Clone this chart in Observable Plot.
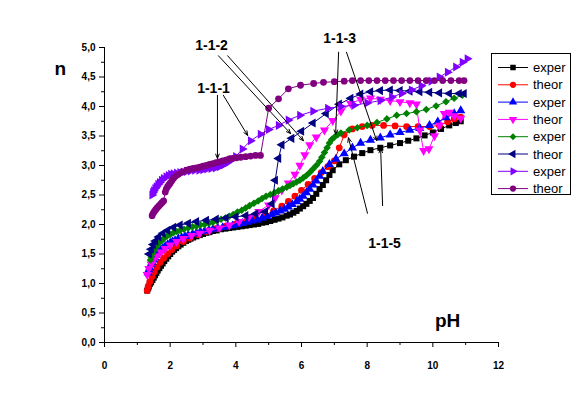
<!DOCTYPE html>
<html><head><meta charset="utf-8">
<script src="https://cdn.jsdelivr.net/npm/d3@7"></script>
<script src="https://cdn.jsdelivr.net/npm/@observablehq/plot@0.6"></script>
<style>
body{margin:0;background:#fff;}
#wrap{position:relative;width:579px;height:410px;background:#fff;}
#legend{position:absolute;left:491px;top:53px;}
</style></head><body><div id="wrap"></div>
<script>
// ---- data: [pH, n] ----
const exper1 = [[1.30,0.88],[1.33,0.92],[1.35,0.95],[1.38,0.99],[1.42,1.02],[1.46,1.06],[1.50,1.10],[1.54,1.14],[1.58,1.18],[1.62,1.22],[1.67,1.26],[1.72,1.30],[1.77,1.34],[1.82,1.38],[1.88,1.42],[1.94,1.46],[2.00,1.50],[2.06,1.54],[2.12,1.57],[2.18,1.60],[2.25,1.63],[2.32,1.66],[2.40,1.69],[2.48,1.72],[2.55,1.74],[2.62,1.76],[2.70,1.78],[2.80,1.80],[2.90,1.82],[3.00,1.84],[3.10,1.86],[3.20,1.87],[3.30,1.89],[3.42,1.90],[3.55,1.92],[3.68,1.93],[3.80,1.94],[3.92,1.95],[4.05,1.96],[4.18,1.97],[4.30,1.98],[4.42,1.99],[4.55,2.00],[4.68,2.01],[4.80,2.03],[4.92,2.04],[5.05,2.06],[5.18,2.08],[5.30,2.10],[5.42,2.12],[5.55,2.15],[5.65,2.17],[5.75,2.20],[5.85,2.23],[5.95,2.27],[6.05,2.31],[6.15,2.35],[6.25,2.40],[6.35,2.45],[6.45,2.52],[6.55,2.60],[6.65,2.67],[6.75,2.75],[6.85,2.84],[6.95,2.92],[7.15,3.02],[7.35,3.09],[7.60,3.15],[7.85,3.21],[8.10,3.26],[8.40,3.30],[8.70,3.34],[9.00,3.38],[9.25,3.42],[9.50,3.46],[9.75,3.51],[10.00,3.56],[10.25,3.62],[10.50,3.68],[10.70,3.72],[10.85,3.75]];
const theor1 = [[1.30,0.88],[1.33,0.95],[1.38,1.03],[1.45,1.12],[1.52,1.20],[1.60,1.28],[1.70,1.36],[1.80,1.43],[1.92,1.50],[2.05,1.57],[2.20,1.64],[2.40,1.71],[2.60,1.77],[2.85,1.83],[3.10,1.88],[3.40,1.93],[3.70,1.97],[4.00,2.01],[4.30,2.05],[4.60,2.10],[4.90,2.16],[5.15,2.23],[5.40,2.31],[5.60,2.39],[5.80,2.48],[6.00,2.58],[6.20,2.68],[6.40,2.78],[6.60,2.88],[6.80,2.98],[7.00,3.08],[7.15,3.30],[7.30,3.52],[7.55,3.62],[7.85,3.66],[8.15,3.68],[8.50,3.68],[8.85,3.67],[9.20,3.66],[9.55,3.66],[9.90,3.66],[10.20,3.68],[10.45,3.74],[10.65,3.79],[10.85,3.82]];
const exper2 = [[1.33,1.18],[1.35,1.23],[1.38,1.27],[1.41,1.32],[1.45,1.36],[1.49,1.40],[1.53,1.44],[1.57,1.48],[1.62,1.51],[1.67,1.54],[1.72,1.57],[1.78,1.60],[1.85,1.63],[1.92,1.66],[2.00,1.69],[2.07,1.71],[2.15,1.73],[2.25,1.76],[2.35,1.78],[2.45,1.80],[2.55,1.82],[2.68,1.84],[2.80,1.86],[2.92,1.88],[3.05,1.89],[3.18,1.91],[3.30,1.92],[3.45,1.94],[3.60,1.95],[3.75,1.97],[3.90,1.98],[4.05,2.00],[4.20,2.02],[4.35,2.04],[4.50,2.06],[4.65,2.08],[4.80,2.11],[4.95,2.14],[5.10,2.17],[5.22,2.20],[5.35,2.23],[5.48,2.26],[5.60,2.30],[5.72,2.34],[5.85,2.39],[5.95,2.43],[6.05,2.48],[6.15,2.54],[6.25,2.60],[6.35,2.67],[6.45,2.74],[6.55,2.82],[6.65,2.90],[6.85,3.02],[7.05,3.11],[7.30,3.20],[7.55,3.30],[7.80,3.38],[8.10,3.43],[8.40,3.47],[8.70,3.52],[9.00,3.56],[9.30,3.60],[9.60,3.63],[9.90,3.68],[10.15,3.74],[10.40,3.81],[10.65,3.88],[10.85,3.93]];
const theor2 = [[1.30,1.15],[1.35,1.25],[1.42,1.33],[1.50,1.40],[1.60,1.47],[1.72,1.53],[1.85,1.59],[2.00,1.65],[2.20,1.71],[2.40,1.76],[2.65,1.81],[2.90,1.85],[3.20,1.90],[3.50,1.94],[3.80,1.99],[4.10,2.05],[4.40,2.13],[4.70,2.22],[5.00,2.33],[5.20,2.45],[5.40,2.58],[5.60,2.70],[5.80,2.85],[5.95,3.00],[6.10,3.18],[6.25,3.35],[6.45,3.48],[6.70,3.60],[6.95,3.76],[7.20,3.92],[7.50,4.05],[7.80,4.12],[8.10,4.14],[8.40,4.12],[8.70,4.10],[9.00,4.08],[9.30,4.06],[9.50,4.04],[9.60,3.60],[9.72,3.25],[9.88,3.28],[10.05,3.50],[10.20,3.68],[10.35,3.88],[10.50,3.90],[10.65,3.84],[10.85,3.80]];
const exper3 = [[1.40,1.40],[1.42,1.45],[1.45,1.50],[1.48,1.54],[1.52,1.58],[1.57,1.62],[1.62,1.66],[1.68,1.70],[1.75,1.73],[1.82,1.77],[1.90,1.80],[2.00,1.83],[2.10,1.86],[2.20,1.88],[2.30,1.90],[2.42,1.92],[2.55,1.94],[2.68,1.96],[2.80,1.97],[2.92,1.99],[3.05,2.00],[3.18,2.02],[3.30,2.04],[3.42,2.06],[3.55,2.09],[3.68,2.11],[3.80,2.14],[3.92,2.17],[4.05,2.21],[4.18,2.24],[4.30,2.28],[4.42,2.32],[4.55,2.36],[4.68,2.40],[4.80,2.44],[4.92,2.48],[5.05,2.51],[5.18,2.54],[5.30,2.57],[5.42,2.60],[5.55,2.63],[5.65,2.66],[5.75,2.69],[5.85,2.72],[5.95,2.75],[6.05,2.79],[6.15,2.83],[6.25,2.88],[6.35,2.94],[6.45,3.00],[6.55,3.07],[6.62,3.14],[6.70,3.22],[6.78,3.30],[6.85,3.38],[6.92,3.44],[7.00,3.48],[7.10,3.52],[7.20,3.55],[7.45,3.60],[7.70,3.64],[8.00,3.68],[8.30,3.73],[8.60,3.79],[8.90,3.85],[9.20,3.88],[9.50,3.91],[9.80,3.95],[10.10,4.01],[10.40,4.08],[10.65,4.14],[10.90,4.19]];
const theor3 = [[1.36,1.50],[1.42,1.58],[1.48,1.66],[1.55,1.72],[1.65,1.79],[1.78,1.85],[1.92,1.90],[2.10,1.95],[2.30,1.99],[2.55,2.02],[2.80,2.05],[3.10,2.07],[3.40,2.09],[3.70,2.11],[4.00,2.13],[4.30,2.15],[4.60,2.18],[4.90,2.22],[5.10,2.35],[5.20,2.75],[5.30,3.12],[5.40,3.35],[5.70,3.46],[6.00,3.58],[6.35,3.72],[6.75,3.88],[7.15,4.04],[7.50,4.14],[7.80,4.21],[8.10,4.25],[8.40,4.27],[8.70,4.28],[9.00,4.27],[9.30,4.26],[9.60,4.25],[9.90,4.24],[10.20,4.23],[10.50,4.22],[10.80,4.22],[10.95,4.22]];
const exper4 = [[1.45,2.50],[1.47,2.54],[1.50,2.57],[1.54,2.61],[1.58,2.64],[1.63,2.68],[1.68,2.71],[1.74,2.75],[1.80,2.78],[1.88,2.81],[1.95,2.83],[2.02,2.85],[2.10,2.86],[2.20,2.87],[2.30,2.88],[2.40,2.89],[2.50,2.90],[2.62,2.91],[2.75,2.92],[2.88,2.92],[3.00,2.93],[3.12,2.94],[3.25,2.95],[3.38,2.96],[3.50,2.98],[3.62,3.01],[3.75,3.05],[3.88,3.10],[4.00,3.15],[4.20,3.28],[4.45,3.42],[4.75,3.53],[5.00,3.61],[5.30,3.68],[5.60,3.77],[5.95,3.85],[6.35,3.92],[6.80,3.97],[7.20,4.00],[7.60,4.02],[8.00,4.06],[8.40,4.10],[8.75,4.16],[9.05,4.22],[9.35,4.28],[9.65,4.35],[9.95,4.43],[10.20,4.50],[10.45,4.58],[10.70,4.67],[10.90,4.75],[11.05,4.81]];
const theor4 = [[1.45,2.15],[1.48,2.19],[1.52,2.22],[1.56,2.25],[1.60,2.28],[1.65,2.31],[1.70,2.34],[1.75,2.37],[1.80,2.40],[1.85,2.55],[1.88,2.60],[1.92,2.64],[1.96,2.67],[2.00,2.70],[2.05,2.74],[2.10,2.78],[2.17,2.82],[2.25,2.85],[2.37,2.89],[2.50,2.92],[2.60,2.94],[2.70,2.95],[2.80,2.96],[2.90,2.97],[3.00,2.99],[3.10,3.00],[3.20,3.02],[3.30,3.03],[3.40,3.05],[3.50,3.06],[3.60,3.08],[3.70,3.09],[3.80,3.11],[3.90,3.12],[4.02,3.13],[4.15,3.14],[4.30,3.15],[4.45,3.16],[4.60,3.17],[4.75,3.17],[5.00,3.97],[5.30,4.13],[5.60,4.30],[5.97,4.36],[6.37,4.39],[6.67,4.41],[7.00,4.42],[7.30,4.43],[7.55,4.44],[7.80,4.44],[8.05,4.44],[8.30,4.44],[8.55,4.44],[8.80,4.44],[9.05,4.44],[9.30,4.44],[9.55,4.44],[9.80,4.44],[10.05,4.44],[10.30,4.44],[10.55,4.44],[10.80,4.44],[10.95,4.44]];

const seriesNames = ["exper","theor","exper","theor","exper","theor","exper","theor"];
const seriesColors = ["#000000","#ff0000","#0000ff","#ff00ff","#008000","#000080","#8000ff","#800080"];

const xMajor = [0,2,4,6,8,10,12];
const xMinor = [1,3,5,7,9,11];
const yMajor = [0,0.5,1,1.5,2,2.5,3,3.5,4,4.5,5];
const yMinor = [0.25,0.75,1.25,1.75,2.25,2.75,3.25,3.75,4.25,4.75];

const annotLabels = [
  {text:"1-1-1", x:3.32, y:4.31},
  {text:"1-1-2", x:3.26, y:5.03},
  {text:"1-1-3", x:7.16, y:5.15},
  {text:"1-1-5", x:8.53, y:1.68}
];
const annotArrows = [
  {x1:3.44, y1:4.19, x2:3.44, y2:3.12},
  {x1:3.62, y1:4.19, x2:4.36, y2:3.51},
  {x1:3.47, y1:4.86, x2:5.67, y2:3.54},
  {x1:3.75, y1:4.86, x2:6.06, y2:3.42},
  {x1:7.13, y1:4.92, x2:7.04, y2:3.53},
  {x1:7.37, y1:4.92, x2:8.29, y2:3.42},
  {x1:8.47, y1:2.32, x2:8.41, y2:3.29},
  {x1:8.01, y1:2.19, x2:7.43, y2:3.47}
];
const axisTitles = [
  {text:"n", x:-1.35, y:4.64},
  {text:"pH", x:10.45, y:0.37}
];

// ---- custom symbols ----
function tri(angle){
  return {draw(ctx, size){
    const R = Math.sqrt(size/1.299);
    for(let k=0;k<3;k++){
      const a = angle + k*2*Math.PI/3;
      const px = R*Math.cos(a), py = R*Math.sin(a);
      if(k===0) ctx.moveTo(px,py); else ctx.lineTo(px,py);
    }
    ctx.closePath();
  }};
}
const symUp = tri(-Math.PI/2), symDown = tri(Math.PI/2), symLeft = tri(Math.PI), symRight = tri(0);
const seriesSymbols = [d3.symbolSquare, d3.symbolCircle, symUp, symDown, d3.symbolDiamond2, symLeft, symRight, d3.symbolCircle];
const seriesData = [exper1, theor1, exper2, theor2, exper3, theor3, exper4, theor4];

const R = 3.4;
const marks = [];
seriesData.forEach((data, i) => {
  marks.push(Plot.line(data, {x: d=>d[0], y: d=>d[1], stroke: seriesColors[i], strokeWidth: 1}));
  marks.push(Plot.dot(data, {x: d=>d[0], y: d=>d[1], symbol: seriesSymbols[i], fill: seriesColors[i], stroke: "none", r: R}));
});

const chart = Plot.plot({
  width: 579, height: 410,
  marginLeft: 104, marginRight: 81, marginTop: 47, marginBottom: 68,
  x: {domain: [0,12], label: null},
  y: {domain: [0,5], label: null},
  style: {fontFamily: "Arial, 'Liberation Sans', sans-serif", fontSize: "10px", fontWeight: "bold", background: "#fff", overflow: "visible"},
  marks: [
    Plot.ruleY([0], {stroke: "black", strokeWidth: 1}),
    Plot.ruleX([0], {stroke: "black", strokeWidth: 1}),
    Plot.axisX(xMajor, {tickSize: 5, tickPadding: 14, tickFormat: d => String(d), stroke: "black", fill: "black"}),
    Plot.axisX(xMinor, {tickSize: 3, tickFormat: () => "", stroke: "black"}),
    Plot.axisY(yMajor, {tickSize: 5, tickPadding: 4, tickFormat: d => d.toFixed(1).replace(".", ","), stroke: "black", fill: "black"}),
    Plot.axisY(yMinor, {tickSize: 3, tickFormat: () => "", stroke: "black"}),
    ...marks,
    Plot.arrow(annotArrows, {x1:"x1", y1:"y1", x2:"x2", y2:"y2", stroke: "black", strokeWidth: 1, headLength: 7, headAngle: 45}),
    Plot.text(annotLabels, {x:"x", y:"y", text:"text", fontSize: 14, fontWeight: "bold", fill: "black"}),
    Plot.text(axisTitles, {x:"x", y:"y", text:"text", fontSize: 19, fontWeight: "bold", fill: "black"})
  ]
});
document.getElementById("wrap").appendChild(chart);

// ---- legend ----
const lw = 80, lh = 142;
const leg = d3.select("#wrap").append("svg").attr("id","legend").attr("width", lw).attr("height", lh);
leg.append("rect").attr("x",0.5).attr("y",0.5).attr("width",lw-1).attr("height",lh-1).attr("fill","#fff").attr("stroke","black").attr("stroke-width",1);
seriesNames.forEach((name, i) => {
  const y = 14.5 + i*17.3;
  const g = leg.append("g");
  g.append("line").attr("x1",7).attr("x2",37).attr("y1",y).attr("y2",y).attr("stroke",seriesColors[i]).attr("stroke-width",1);
  g.append("path").attr("transform",`translate(22,${y})`).attr("d", d3.symbol(seriesSymbols[i], Math.PI*3.1*3.1)()).attr("fill",seriesColors[i]);
  g.append("text").attr("x",42).attr("y",y+4.5).attr("font-family","Arial, 'Liberation Sans', sans-serif").attr("font-size",13).attr("fill","black").text(name);
});
</script>
</body></html>
